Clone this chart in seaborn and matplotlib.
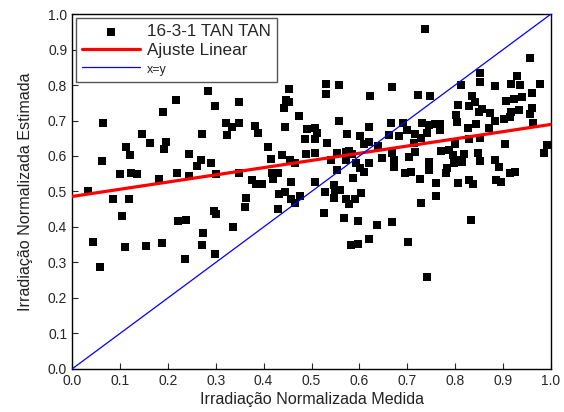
import numpy as np
import pandas as pd
import matplotlib
matplotlib.use("Agg")
import matplotlib.pyplot as plt
import seaborn as sns

# measured (x) vs estimated (y) normalized irradiance
medida = [
    0.189, 0.065, 0.147, 0.113, 0.162, 0.196, 0.192, 0.120, 0.244, 0.062,
    0.100, 0.124, 0.136, 0.182, 0.220, 0.244, 0.033, 0.086, 0.118, 0.104,
    0.221, 0.238, 0.043, 0.110, 0.155, 0.188, 0.235, 0.058, 0.217,
    0.284, 0.298, 0.348, 0.454, 0.447, 0.452, 0.442,
    0.473, 0.322, 0.335, 0.349, 0.382, 0.388, 0.445, 0.271, 0.324, 0.491,
    0.487, 0.410, 0.439, 0.415, 0.455, 0.466, 0.489, 0.269, 0.260, 0.291,
    0.301, 0.349, 0.376, 0.385, 0.397, 0.420, 0.430, 0.418, 0.457, 0.364,
    0.433, 0.445, 0.458, 0.476,
    0.362, 0.296, 0.301, 0.430, 0.466, 0.336, 0.273, 0.271, 0.298,
    0.736, 0.530, 0.558, 0.530, 0.623, 0.667, 0.722, 0.748,
    0.507, 0.511, 0.507, 0.557, 0.574, 0.601, 0.621, 0.532, 0.507, 0.553,
    0.578, 0.573, 0.585, 0.609, 0.621, 0.639, 0.661, 0.666, 0.692, 0.683,
    0.699, 0.717, 0.731, 0.745, 0.741, 0.729, 0.713, 0.717, 0.668, 0.647,
    0.672, 0.703, 0.619, 0.593, 0.571, 0.541, 0.602, 0.609, 0.553, 0.672,
    0.696, 0.708, 0.727, 0.745, 0.745, 0.587, 0.507, 0.528, 0.546, 0.548,
    0.560, 0.604, 0.546, 0.571, 0.591,
    0.578, 0.729, 0.526, 0.567, 0.598, 0.637, 0.667, 0.619, 0.598, 0.582,
    0.701, 0.741,
    0.957, 0.851, 0.852, 0.813, 0.882, 0.930, 0.917, 0.935, 0.976, 0.835,
    0.841, 0.828, 0.806, 0.855, 0.905, 0.923, 0.939, 0.934, 0.960, 0.960,
    0.802, 0.804, 0.849, 0.873, 0.884, 0.901, 0.915, 0.917, 0.957, 0.962,
    0.757, 0.769, 0.769, 0.827, 0.844, 0.871, 0.829, 0.852, 0.799, 0.903,
    0.771, 0.786, 0.795, 0.818, 0.847, 0.802, 0.797, 0.814, 0.851, 0.882,
    0.891, 0.992, 0.985, 0.783, 0.781, 0.915, 0.924, 0.806, 0.828, 0.837,
    0.885, 0.896, 0.759, 0.760, 0.833,
]
estimada = [
    0.725, 0.694, 0.661, 0.626, 0.638, 0.639, 0.621, 0.604, 0.606, 0.586,
    0.548, 0.552, 0.548, 0.534, 0.551, 0.544, 0.502, 0.480, 0.478, 0.431,
    0.417, 0.419, 0.357, 0.345, 0.347, 0.356, 0.309, 0.288, 0.757,
    0.784, 0.742, 0.752, 0.788, 0.758, 0.753, 0.734,
    0.714, 0.694, 0.683, 0.694, 0.685, 0.666, 0.683, 0.662, 0.659, 0.676,
    0.647, 0.624, 0.602, 0.592, 0.590, 0.579, 0.605, 0.590, 0.572, 0.579,
    0.548, 0.551, 0.531, 0.522, 0.522, 0.535, 0.552, 0.552, 0.527, 0.482,
    0.493, 0.499, 0.478, 0.487,
    0.455, 0.445, 0.437, 0.450, 0.468, 0.401, 0.382, 0.349, 0.324,
    0.958, 0.804, 0.801, 0.775, 0.769, 0.795, 0.773, 0.769,
    0.678, 0.664, 0.647, 0.699, 0.662, 0.657, 0.683, 0.638, 0.609, 0.609,
    0.615, 0.610, 0.605, 0.633, 0.640, 0.628, 0.659, 0.694, 0.694, 0.656,
    0.673, 0.662, 0.694, 0.687, 0.664, 0.650, 0.636, 0.612, 0.609, 0.593,
    0.589, 0.596, 0.581, 0.579, 0.590, 0.589, 0.565, 0.554, 0.561, 0.570,
    0.551, 0.556, 0.534, 0.561, 0.584, 0.537, 0.528, 0.499, 0.518, 0.504,
    0.504, 0.495, 0.481, 0.478, 0.478,
    0.464, 0.469, 0.440, 0.424, 0.417, 0.406, 0.413, 0.365, 0.352, 0.350,
    0.357, 0.258,
    0.877, 0.833, 0.809, 0.799, 0.798, 0.824, 0.803, 0.799, 0.803, 0.770,
    0.753, 0.741, 0.744, 0.731, 0.754, 0.761, 0.765, 0.730, 0.778, 0.734,
    0.715, 0.697, 0.725, 0.720, 0.699, 0.703, 0.711, 0.725, 0.718, 0.694,
    0.690, 0.690, 0.673, 0.680, 0.690, 0.678, 0.647, 0.650, 0.633, 0.633,
    0.615, 0.617, 0.603, 0.607, 0.609, 0.589, 0.579, 0.582, 0.587, 0.590,
    0.568, 0.631, 0.609, 0.565, 0.551, 0.551, 0.556, 0.525, 0.532, 0.521,
    0.532, 0.528, 0.523, 0.488, 0.421,
]

# linear fit coefficients
fit_intercept = 0.486
fit_slope = 0.203
line_x = [0.0, 1.0]

serie_label = "16-3-1 TAN TAN"
fit_label = "Ajuste Linear"
ident_label = "x=y"
xlabel = "Irradiação Normalizada Medida"
ylabel = "Irradiação Normalizada Estimada"
ticks = [0.0, 0.1, 0.2, 0.3, 0.4, 0.5, 0.6, 0.7, 0.8, 0.9, 1.0]

sns.set_style("ticks")
plt.rcParams["font.family"] = ["Liberation Sans", "DejaVu Sans"]

fig = plt.figure(figsize=(5.64, 4.12), dpi=100)
ax = fig.add_axes([0.1277, 0.1044, 0.8493, 0.8616])

df = pd.DataFrame({"x": medida, "y": estimada})
sns.scatterplot(data=df, x="x", y="y", ax=ax, marker="s", s=26,
                color="black", linewidth=0, label=serie_label, zorder=3)

fx = np.array(line_x)
sns.lineplot(x=fx, y=fit_intercept + fit_slope * fx, ax=ax, color="#ff0000",
             linewidth=2.3, label=fit_label, zorder=4)
sns.lineplot(x=fx, y=fx, ax=ax, color="#0000ff", linewidth=0.9,
             label=ident_label, zorder=4)

ax.set_xlim(0, 1)
ax.set_ylim(0, 1)
ax.set_xticks(ticks)
ax.set_yticks(ticks)
ax.set_xticklabels([f"{t:.1f}" for t in ticks], fontsize=10)
ax.set_yticklabels([f"{t:.1f}" for t in ticks], fontsize=10)
ax.set_xlabel(xlabel, fontsize=11.6, labelpad=3, color="#222222")
ax.set_ylabel(ylabel, fontsize=11.6, labelpad=11, color="#222222")
for sp in ax.spines.values():
    sp.set_visible(True)
    sp.set_color("black")
    sp.set_linewidth(1.0)
ax.tick_params(direction="in", length=4, width=0.8, top=False, right=False)

leg = ax.legend(loc="upper left", fontsize=12.3, frameon=True, fancybox=False,
                edgecolor="#555555", framealpha=1, borderpad=0.35,
                handlelength=3.4, handletextpad=0.4, labelspacing=0.2,
                borderaxespad=0.25)
leg.get_frame().set_linewidth(1.0)
leg.get_texts()[2].set_fontsize(9)

fig.savefig("out.png", dpi=100)
